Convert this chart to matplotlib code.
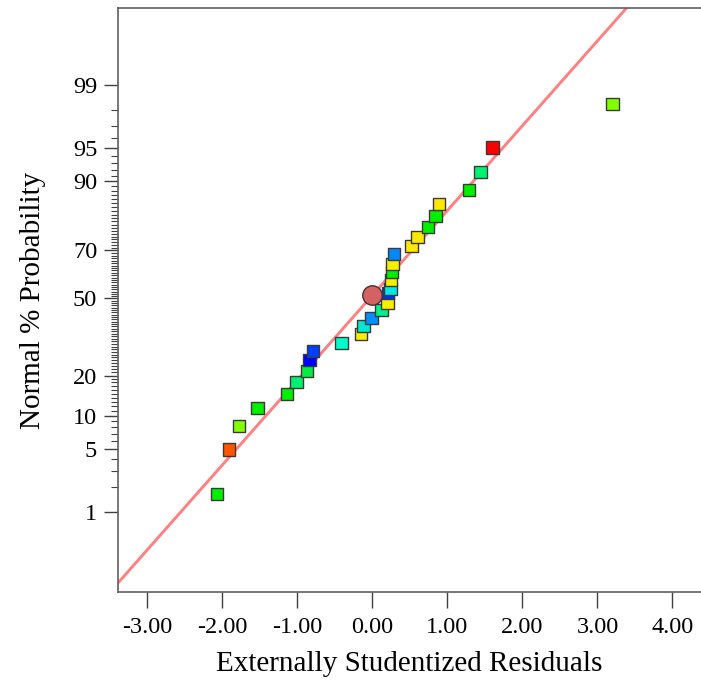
import math
import numpy as np
import matplotlib
matplotlib.use('Agg')
import matplotlib.pyplot as plt
from matplotlib.ticker import FixedLocator, FormatStrFormatter

plt.rcParams['font.family'] = ['Liberation Serif', 'DejaVu Serif']
plt.rcParams['axes.unicode_minus'] = False

# residuals (x) and normal % probability (y)
residuals = [-2.07, -1.91, -1.78, -1.53, -1.14, -1.01, -0.87, -0.84, -0.79, -0.41,
             -0.15, -0.12, -0.01, 0.12, 0.20, 0.21, 0.24, 0.25, 0.26, 0.27,
             0.29, 0.52, 0.60, 0.74, 0.84, 0.89, 1.29, 1.44, 1.60, 3.20]
probability = [1.65, 5.0, 8.2, 11.6, 14.9, 18.1, 21.5, 25.1, 28.4, 31.4,
               34.9, 38.2, 41.6, 45.0, 48.0, 52.4, 54.1, 58.0, 61.4, 64.7,
               68.6, 71.6, 74.9, 78.2, 81.6, 84.9, 88.2, 91.6, 95.0, 98.3]
point_colors = ['#00f000', '#ff5500', '#80ff00', '#00f000', '#00f000', '#00f070', '#00f040',
                '#0000ff', '#0040ff', '#00ffc8', '#f5f000', '#00e8d0', '#0090ff', '#00f090',
                '#f5f000', '#0030ff', '#00e8e8', '#f5f000', '#00f000', '#f5f000', '#0088ff',
                '#ffe800', '#ffe800', '#00f000', '#00f000', '#ffe800', '#00f000', '#00f070',
                '#ff0000', '#80ff00']

center_point = (0.0, 51.4)
fit_x = [-3.6, 4.6]
fit_slope = 0.925      # probit units per residual unit
fit_intercept = 0.034

x_ticks = [-3, -2, -1, 0, 1, 2, 3, 4]
y_ticks = [1, 5, 10, 20, 50, 70, 90, 95, 99]
y_minor = [p for p in range(2, 99) if p not in y_ticks]

# probit scale helpers
_z = np.linspace(-8, 8, 40001)
_cdf = np.array([0.5 * (1 + math.erf(v / math.sqrt(2))) for v in _z]) * 100


def to_probit(p):
    return np.interp(np.asarray(p, dtype=float), _cdf, _z)


def from_probit(z):
    return np.interp(np.asarray(z, dtype=float), _z, _cdf)


fig = plt.figure(figsize=(7.01, 6.91), dpi=100)
ax = fig.add_axes([118 / 701, 1 - 591.5 / 691, 583 / 701, 583.1 / 691])
ax.set_yscale('function', functions=(to_probit, from_probit))

fit_y = from_probit(fit_intercept + fit_slope * np.array(fit_x))
ax.plot(fit_x, fit_y, color='#ff8080', lw=2.1, zorder=2)

ax.scatter(residuals, probability, marker='s', s=80, c=point_colors,
           edgecolors='#3a3a3a', linewidths=1.0, zorder=3)
ax.plot(*center_point, 'o', ms=14, color='#d56262', mec='#4a3030', mew=1.0, zorder=4)

ax.set_xlim(-3.39, 4.38)
ax.set_ylim(from_probit(-3.195), from_probit(3.163))

ax.xaxis.set_major_locator(FixedLocator(x_ticks))
ax.xaxis.set_major_formatter(FormatStrFormatter('%.2f'))
ax.yaxis.set_major_locator(FixedLocator(y_ticks))
ax.yaxis.set_minor_locator(FixedLocator(y_minor))
ax.yaxis.set_major_formatter(FormatStrFormatter('%d'))
ax.yaxis.set_minor_formatter(plt.NullFormatter())

ax.tick_params(axis='x', length=11.5, width=1, color='#404040', labelsize=17.5, pad=7)
ax.tick_params(axis='y', which='major', length=10, width=1, color='#404040', labelsize=17.5, pad=5)
ax.tick_params(axis='y', which='minor', length=5, width=0.8, color='#404040')

for side in ['left', 'top', 'bottom']:
    ax.spines[side].set_color('#606060')
    ax.spines[side].set_linewidth(1.2)
ax.spines['right'].set_visible(False)

ax.set_xlabel('Externally Studentized Residuals', fontsize=21, labelpad=9)
ax.set_ylabel('Normal % Probability', fontsize=21, labelpad=19)

fig.savefig('out.png', dpi=100)
